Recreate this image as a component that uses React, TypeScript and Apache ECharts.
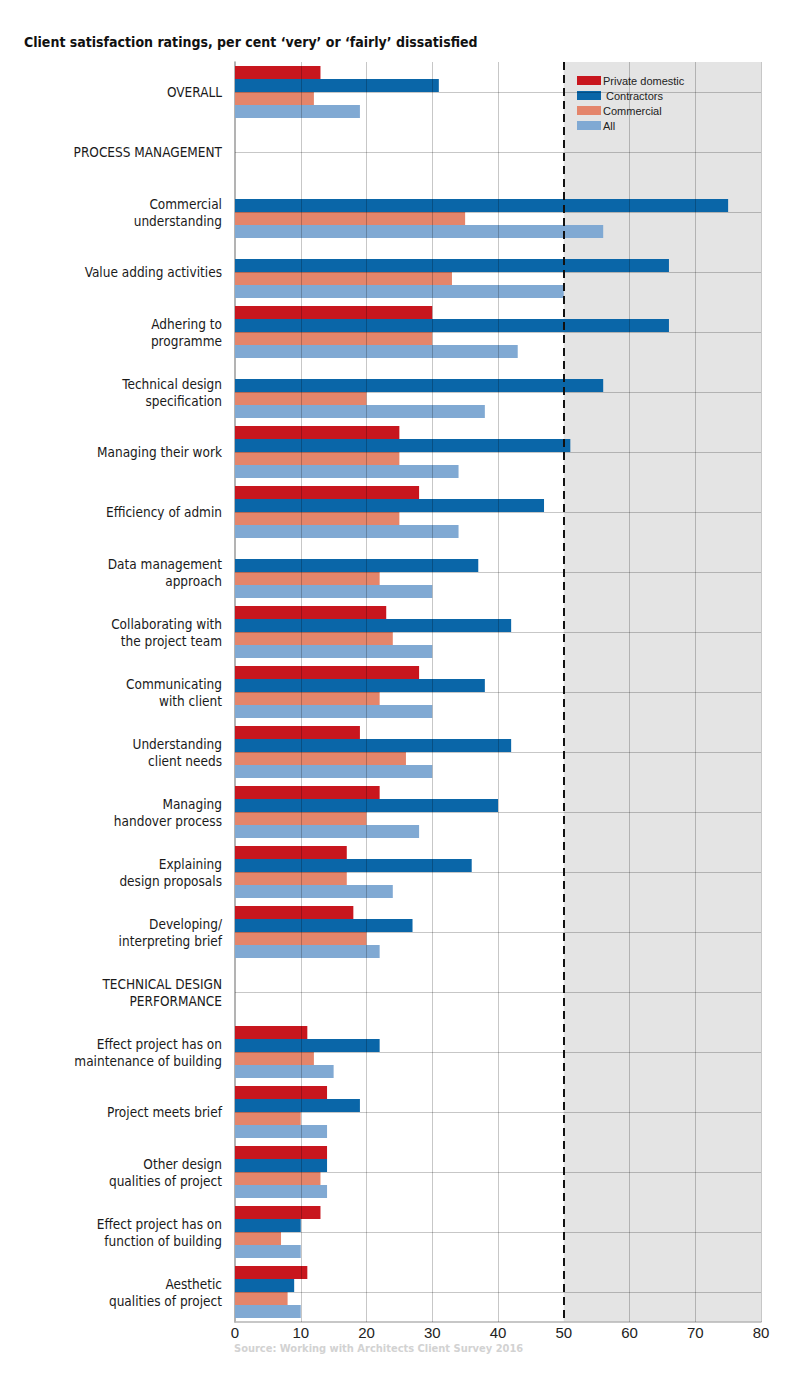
import React, { useEffect, useRef } from "react";
import * as echarts from "echarts";

const categories = [
  "OVERALL",
  "PROCESS MANAGEMENT",
  "Commercial\nunderstanding",
  "Value adding activities",
  "Adhering to\nprogramme",
  "Technical design\nspecification",
  "Managing their work",
  "Efficiency of admin",
  "Data management\napproach",
  "Collaborating with\nthe project team",
  "Communicating\nwith client",
  "Understanding\nclient needs",
  "Managing\nhandover process",
  "Explaining\ndesign proposals",
  "Developing/\ninterpreting brief",
  "TECHNICAL DESIGN\nPERFORMANCE",
  "Effect project has on\nmaintenance of building",
  "Project meets brief",
  "Other design\nqualities of project",
  "Effect project has on\nfunction of building",
  "Aesthetic\nqualities of project",
];

const privateDomestic = [13, null, null, null, 30, null, 25, 28, null, 23, 28, 19, 22, 17, 18, null, 11, 14, 14, 13, 11];
const contractors = [31, null, 75, 66, 66, 56, 51, 47, 37, 42, 38, 42, 40, 36, 27, null, 22, 19, 14, 10, 9];
const commercial = [12, null, 35, 33, 30, 20, 25, 25, 22, 24, 22, 26, 20, 17, 20, null, 12, 10, 13, 7, 8];
const allClients = [19, null, 56, 50, 43, 38, 34, 34, 30, 30, 30, 30, 28, 24, 22, null, 15, 14, 14, 10, 10];

const seriesNames = ["Private domestic", " Contractors", "Commercial", "All"];
const seriesColors = ["#c8161e", "#0a66a8", "#e4856b", "#80a9d3"];
const gridTicks = [10, 20, 30, 40, 60, 70, 80];
const thresholdValue = 50;
const shadeRange = [50, 80];

const title = "Client satisfaction ratings, per cent \u2018very\u2019 or \u2018fairly\u2019 dissatisfied";
const source = "Source: Working with Architects Client Survey 2016";

const narrow = "'Liberation Sans Narrow', 'DejaVu Sans Condensed', 'Arial Narrow', sans-serif";

export default function App() {
  const ref = useRef<HTMLDivElement>(null);
  useEffect(() => {
    if (!ref.current) return;
    const chart = echarts.init(ref.current, undefined, { renderer: "svg" });
    const dataSets = [privateDomestic, contractors, commercial, allClients];
    const series: any[] = dataSets.map((d, i) => ({
      name: seriesNames[i],
      type: "bar",
      data: d,
      itemStyle: { color: seriesColors[i] },
      barGap: "0%",
      barCategoryGap: "13%",
      silent: true,
    }));
    series[0].markArea = {
      silent: true,
      itemStyle: { color: "#e4e4e4" },
      data: [[{ xAxis: shadeRange[0] }, { xAxis: shadeRange[1] }]],
      z: 0,
    };
    series.push({
      name: "_grid",
      type: "line",
      data: [],
      silent: true,
      markLine: {
        silent: true,
        symbol: ["none", "none"],
        label: { show: false },
        lineStyle: { color: "rgba(0,0,0,0.22)", width: 1, type: "solid" },
        data: [
          ...gridTicks.map((v) => ({ xAxis: v })),
          ...categories.map((c) => ({ yAxis: c })),
        ],
      },
    });
    series.push({
      name: "_threshold",
      type: "line",
      data: [],
      silent: true,
      markLine: {
        silent: true,
        symbol: ["none", "none"],
        label: { show: false },
        lineStyle: { color: "#111", width: 2, type: [8, 5] },
        data: [{ xAxis: thresholdValue }],
      },
    });

    chart.setOption({
      animation: false,
      backgroundColor: "#ffffff",
      title: {
        text: title,
        left: 24,
        top: 35,
        padding: 0,
        textStyle: { fontFamily: narrow, fontSize: 14, fontWeight: "bold", color: "#111" },
      },
      legend: {
        data: seriesNames,
        orient: "vertical",
        left: 577,
        top: 75,
        padding: 0,
        itemWidth: 24,
        itemHeight: 9,
        itemGap: 4,
        icon: "rect",
        textStyle: { fontFamily: "'Liberation Sans', Arial, sans-serif", fontSize: 11, color: "#222", padding: [0, 0, 0, -3] },
      },
      grid: { left: 235, right: 39, top: 62, bottom: 55, containLabel: false },
      xAxis: {
        type: "value",
        min: 0,
        max: 80,
        interval: 10,
        axisLine: { show: true, lineStyle: { color: "#b5b5b5", width: 1.5 } },
        axisTick: { show: false },
        splitLine: { show: false },
        axisLabel: {
          fontFamily: "'Liberation Sans', Arial, sans-serif",
          fontSize: 15,
          color: "#222",
          margin: 3,
        },
      },
      yAxis: {
        type: "category",
        data: categories,
        inverse: true,
        axisLine: { show: true, lineStyle: { color: "#9a9a9a", width: 1.5 } },
        axisTick: { show: false },
        splitLine: { show: false },
        axisLabel: {
          fontFamily: narrow,
          fontSize: 13.5,
          color: "#1a1a1a",
          margin: 13,
          lineHeight: 17,
          align: "right",
        },
      },
      graphic: [
        {
          type: "text",
          left: 234,
          top: 1343,
          style: {
            text: source,
            fill: "#d2d2d2",
            font: "bold 11px 'Liberation Sans Narrow', 'DejaVu Sans Condensed', sans-serif",
          },
        },
      ],
      series,
    });
    return () => chart.dispose();
  }, []);
  return <div ref={ref} style={{ width: 800, height: 1377, margin: -8 }} />;
}
